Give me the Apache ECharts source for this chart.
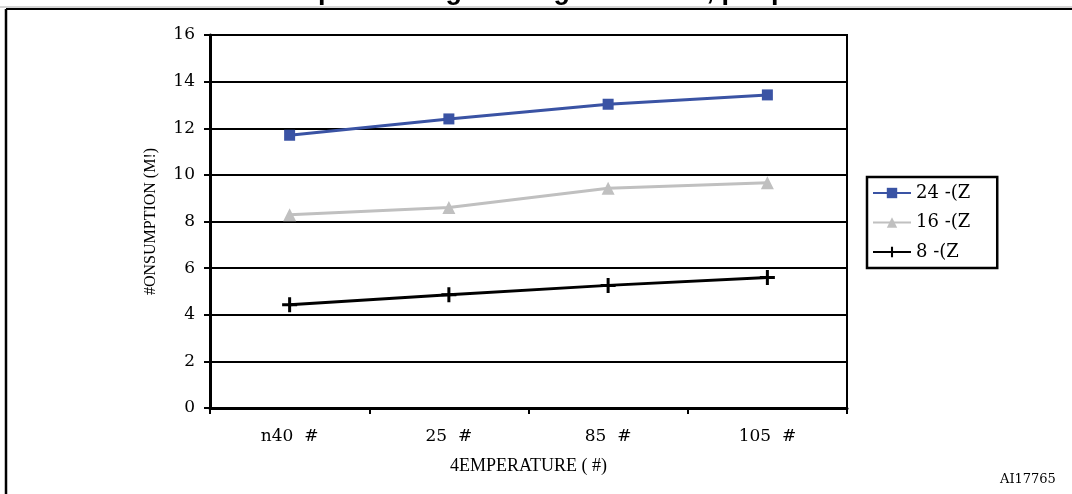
<!DOCTYPE html>
<html>
<head>
<meta charset="utf-8">
<script src="https://cdn.jsdelivr.net/npm/echarts@6/dist/echarts.min.js"></script>
<style>
html,body{margin:0;padding:0;background:#fff;}
#c{width:1072px;height:494px;}
</style>
</head>
<body>
<div id="c"></div>
<script>
const categories = ['n40  #', '25  #', '85  #', '105  #'];
const seriesNames = ['24 -(Z', '16 -(Z', '8 -(Z'];
const s24 = [11.7, 12.4, 13.03, 13.43];
const s16 = [8.29, 8.6, 9.43, 9.66];
const s8 = [4.43, 4.86, 5.26, 5.6];
const yTicks = { min: 0, max: 16, interval: 2 };
const titleText = 'code with data processing running from RAM, peripherals enabled';
const yName = '#ONSUMPTION (M!)';
const xName = '4EMPERATURE ( #)';
const figId = 'AI17765';

const serif = 'DejaVu Serif';
const plusPath = 'path://M4,0 L6,0 L6,4 L10,4 L10,6 L6,6 L6,10 L4,10 L4,6 L0,6 L0,4 L4,4 Z';

const chart = echarts.init(document.getElementById('c'), null, {renderer: 'canvas'});
chart.setOption({
  backgroundColor: '#ffffff',
  animation: false,
  title: {
    text: titleText,
    left: 118,
    top: -27,
    textStyle: { fontFamily: 'Liberation Sans', fontWeight: 'bold', fontSize: 27, color: '#000' }
  },
  grid: {
    left: 210, right: 225, top: 35, bottom: 86,
    show: true, borderColor: '#000', borderWidth: 2, backgroundColor: 'transparent'
  },
  legend: {
    orient: 'vertical',
    left: 867, top: 177,
    padding: [6, 27, 6, 5],
    borderColor: '#000', borderWidth: 2.5,
    itemWidth: 38, itemHeight: 13, itemGap: 9.5,
    textStyle: { fontFamily: serif, fontSize: 18, color: '#000', lineHeight: 20 },
    data: seriesNames
  },
  xAxis: {
    type: 'category',
    data: categories,
    boundaryGap: true,
    name: xName,
    nameLocation: 'middle',
    nameGap: 49,
    nameTextStyle: { fontFamily: 'Liberation Serif', fontSize: 18, color: '#000' },
    axisLine: { lineStyle: { color: '#000', width: 3 } },
    axisTick: { show: true, alignWithLabel: false, length: 6, lineStyle: { color: '#000', width: 2 } },
    axisLabel: { fontFamily: serif, fontSize: 17, color: '#000', margin: 20 },
    splitLine: { show: false }
  },
  yAxis: {
    type: 'value',
    min: yTicks.min, max: yTicks.max, interval: yTicks.interval,
    name: yName,
    nameLocation: 'middle',
    nameGap: 51,
    nameRotate: 90,
    nameTextStyle: { fontFamily: 'Liberation Serif', fontSize: 16, color: '#000' },
    axisLine: { show: true, lineStyle: { color: '#000', width: 3 } },
    axisTick: { show: true, length: 6, lineStyle: { color: '#000', width: 2 } },
    axisLabel: { fontFamily: serif, fontSize: 17, color: '#000', margin: 15 },
    splitLine: { show: true, lineStyle: { color: '#000', width: 2 } }
  },
  series: [
    {
      name: seriesNames[0], type: 'line', data: s24,
      symbol: 'rect', symbolSize: 11,
      lineStyle: { color: '#3a53a4', width: 3 },
      itemStyle: { color: '#3a53a4' }
    },
    {
      name: seriesNames[1], type: 'line', data: s16,
      symbol: 'triangle', symbolSize: 13,
      lineStyle: { color: '#c0c0c0', width: 3 },
      itemStyle: { color: '#c0c0c0' }
    },
    {
      name: seriesNames[2], type: 'line', data: s8,
      symbol: plusPath, symbolSize: 15,
      lineStyle: { color: '#000', width: 3 },
      itemStyle: { color: '#000' }
    }
  ],
  graphic: [
    { type: 'rect', shape: { x: 0, y: 6, width: 1072, height: 3 }, style: { fill: '#fff' }, z: 100 },
    { type: 'line', shape: { x1: 6, y1: 9, x2: 1072, y2: 9 }, style: { stroke: '#000', lineWidth: 2 }, z: 101 },
    { type: 'line', shape: { x1: 0, y1: 7, x2: 1072, y2: 7 }, style: { stroke: '#aaa', lineWidth: 1 }, z: 101 },
    { type: 'line', shape: { x1: 6, y1: 9, x2: 6, y2: 494 }, style: { stroke: '#000', lineWidth: 2.5 }, z: 101 },
    { type: 'text', left: 1000, top: 473, style: { text: figId, fontFamily: serif, fontSize: 13, fill: '#000' } }
  ]
});
</script>
</body>
</html>
